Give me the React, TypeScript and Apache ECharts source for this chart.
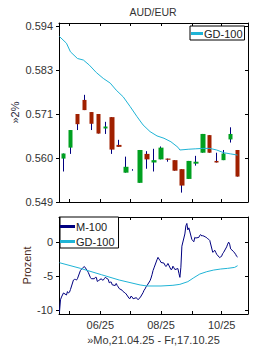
import React, { useEffect, useRef } from 'react';
import * as echarts from 'echarts';

// ---------- data ----------
const weekDates = ['2025-04-25','2025-05-02','2025-05-09','2025-05-16','2025-05-23','2025-05-30','2025-06-06','2025-06-13','2025-06-20','2025-06-27','2025-07-04','2025-07-11','2025-07-18','2025-07-25','2025-08-01','2025-08-08','2025-08-15','2025-08-22','2025-08-29','2025-09-05','2025-09-12','2025-09-19','2025-09-26','2025-10-03','2025-10-10','2025-10-17'];
const opens = [0.5601,0.5629,0.5715,0.5751,0.5720,0.5715,0.5678,0.5707,0.5636,0.5565,0.5572,0.5539,0.5613,0.5591,0.5599,0.5601,0.5597,0.5574,0.5549,0.5588,0.5616,0.5661,0.5595,0.5597,0.5650,0.5623];
const closes = [0.5614,0.5674,0.5689,0.5725,0.5690,0.5665,0.5683,0.5624,0.5631,0.5580,0.5572,0.5623,0.5599,0.5597,0.5629,0.5598,0.5570,0.5532,0.5595,0.5593,0.5664,0.5616,0.5591,0.5614,0.5664,0.5555];
const lows = [0.5568,0.5613,0.5674,0.5725,0.5674,0.5665,0.5664,0.5613,0.5631,0.5565,0.5570,0.5539,0.5575,0.5568,0.5599,0.5593,0.5570,0.5514,0.5549,0.5583,0.5616,0.5616,0.5591,0.5597,0.5642,0.5555];
const highs = [0.5614,0.5674,0.5715,0.5764,0.5720,0.5715,0.5695,0.5707,0.5649,0.5606,0.5574,0.5623,0.5620,0.5626,0.5632,0.5601,0.5597,0.5574,0.5595,0.5608,0.5664,0.5661,0.5616,0.5623,0.5681,0.5623];

const gdTopDates = ['2025-04-21','2025-04-28','2025-05-02','2025-05-09','2025-05-15','2025-05-21','2025-05-28','2025-06-04','2025-06-11','2025-06-17','2025-06-24','2025-07-01','2025-07-08','2025-07-14','2025-07-21','2025-07-28','2025-08-04','2025-08-11','2025-08-18','2025-08-20','2025-08-29','2025-09-05','2025-09-12','2025-09-19','2025-09-26','2025-10-03','2025-10-10','2025-10-17'];
const gdTopValues = [0.5913,0.5896,0.5874,0.5857,0.5853,0.5840,0.5821,0.5806,0.5794,0.5776,0.5759,0.5734,0.5708,0.5687,0.5670,0.5659,0.5653,0.5644,0.5630,0.5623,0.5625,0.5626,0.5627,0.5627,0.5623,0.5616,0.5613,0.5610];

// M-100, one value per trading day (Mon..Fri) from 21.04.25 to 17.10.25
const mStart = '2025-04-21';
const mEnd = '2025-10-17';
const mValues = [
  -10.3, -8.5, -8.1, -7.8, -7.5,
  -7.8, -7.3, -7.5, -7.4, -7.0,
  -5.6, -5.5, -5.5, -5.6, -5.4,
  -4.2, -4.0, -3.9, -3.7, -3.6,
  -4.2, -4.5, -4.85, -5.2, -5.4,
  -5.4, -5.2, -5.2, -5.8, -5.7,
  -5.4, -5.6, -5.6, -5.4, -5.2,
  -5.5, -6.0, -5.9, -5.9, -6.3,
  -6.4, -6.1, -6.4, -6.6, -6.85,
  -7.1, -7.3, -7.4, -7.5, -7.65,
  -8.3, -8.3, -7.95, -8.1, -8.35,
  -8.2, -8.3, -8.5, -8.3, -8.2,
  -7.45, -7.1, -6.9, -6.6, -6.4,
  -5.7, -5.3, -4.8, -4.2, -3.8,
  -2.6, -2.25, -2.5, -2.7, -3.0,
  -3.1, -3.4, -3.6, -3.4, -3.15,
  -4.05, -4.0, -3.55, -3.8, -4.05,
  -3.9, -4.6, -5.2, -3.7, -0.6,
  1.2, 2.4, 2.75, 1.8, 2.1,
  0.4, 0.2, 0.05, 0.7, 0.6,
  0.69, 1.0, 1.1, 0.9, 0.95,
  0.75, 0.6, 0.5, 0.4, 0.25,
  -1.5, -1.4, -1.2, -1.5, -1.8,
  -2.3, -2.2, -2.05, -1.7, -1.5,
  -0.7, -0.3, 0.0, -0.3, -1.0,
  -1.4, -1.6, -1.8, -2.1, -2.2,
];

const gdBotDates = ['2025-04-21','2025-05-12','2025-06-02','2025-06-20','2025-07-11','2025-07-18','2025-08-01','2025-08-13','2025-08-20','2025-08-28','2025-09-03','2025-09-09','2025-09-16','2025-09-23','2025-09-30','2025-10-07','2025-10-14','2025-10-17'];
const gdBotValues = [-3.04,-3.87,-4.8,-5.59,-6.32,-6.47,-6.47,-6.37,-6.23,-5.83,-5.25,-4.71,-4.36,-4.12,-3.97,-3.87,-3.73,-3.48];

const topTickValues = [0.549, 0.56025, 0.5715, 0.58275, 0.594];
const topTickLabels = ['0.549', '0.560', '0.571', '0.583', '0.594'];
const botTickValues = [-10, -5, 0];
const botTickLabels = ['-10', '-5', '0'];
const monthTickDates = ['2025-05-01','2025-06-01','2025-07-01','2025-08-01','2025-09-01','2025-10-01'];
const monthLabelDates = ['2025-06-01','2025-08-01','2025-10-01'];
const monthLabels = ['06/25', '08/25', '10/25'];

const titleText = 'AUD/EUR';
const xName = '»Mo,21.04.25 - Fr,17.10.25';

// ---------- helpers ----------
const DAY = 86400000;
const ts = (s: string) => Date.UTC(+s.slice(0, 4), +s.slice(5, 7) - 1, +s.slice(8, 10));
function tradingDays(from: string, to: string): number[] {
  const out: number[] = [];
  for (let t = ts(from); t <= ts(to); t += DAY) {
    const wd = new Date(t).getUTCDay();
    if (wd !== 0 && wd !== 6) out.push(t);
  }
  return out;
}
const nearest = (vals: number[], v: number) => {
  let bi = 0;
  vals.forEach((x, i) => { if (Math.abs(x - v) < Math.abs(vals[bi] - v)) bi = i; });
  return bi;
};

const FONT = '"Liberation Sans", Arial, sans-serif';
const TXT = '#333';
const NAVY = '#000080';
const CYAN = '#1fb4d6';
const GREEN = '#00a020';
const RED = '#a02000';

const xMin = ts('2025-04-21') - 0.5 * DAY;
const xMax = ts('2025-04-21') + 189.45 * DAY;
const monthTickTs = monthTickDates.map(ts);
const monthLabelTs = monthLabelDates.map(ts);

const axisLine = { show: true, onZero: false, lineStyle: { color: '#000', width: 1 } };

function xAxisDef(gridIndex: number, position: string, labels: boolean): any {
  const a: any = {
    type: 'value', gridIndex, position, min: xMin, max: xMax, scale: true,
    axisLine,
    axisTick: { show: true, inside: true, length: 3, lineStyle: { color: '#000' }, customValues: monthTickTs },
    axisLabel: { show: false },
    splitLine: { show: false },
    minorTick: { show: false },
  };
  if (labels) {
    a.axisLabel = {
      show: true, customValues: monthLabelTs, margin: 5, fontSize: 11, color: TXT, fontFamily: FONT,
      formatter: (v: number) => monthLabels[nearest(monthLabelTs, v)],
    };
    a.name = xName;
    a.nameLocation = 'middle';
    a.nameGap = 20;
    a.nameMoveOverlap = false;
    a.nameTextStyle = { fontSize: 11, color: TXT, fontFamily: FONT };
  }
  return a;
}

function yAxisDef(gridIndex: number, position: string, min: number, max: number, ticks: number[], labels: string[] | null, name?: string, nameGap?: number, nameColor?: string): any {
  const a: any = {
    type: 'value', gridIndex, position, min, max,
    axisLine,
    axisTick: { show: true, inside: position === 'right', length: 3, lineStyle: { color: '#000' }, customValues: ticks },
    axisLabel: { show: false },
    splitLine: { show: false },
    minorTick: { show: false },
  };
  if (labels) {
    a.axisLabel = {
      show: true, customValues: ticks, margin: 6, fontSize: 11, color: TXT, fontFamily: FONT,
      formatter: (v: number) => labels[nearest(ticks, v)],
    };
    a.name = name;
    a.nameLocation = 'middle';
    a.nameGap = nameGap;
    a.nameMoveOverlap = false;
    a.nameTextStyle = { fontSize: 11, color: nameColor, fontFamily: FONT };
  }
  return a;
}

export default function App() {
  const ref = useRef<HTMLDivElement>(null);
  useEffect(() => {
    const chart = echarts.init(ref.current!, null, { renderer: 'svg' });
    const mDays = tradingDays(mStart, mEnd);
    const option: any = {
      animation: false,
      backgroundColor: '#fff',
      title: {
        text: titleText, left: 153, top: 6, padding: 0, textAlign: 'center', textVerticalAlign: 'top',
        textStyle: { fontSize: 10.5, fontWeight: 'normal', color: TXT, fontFamily: FONT },
      },
      grid: [
        { left: 59, top: 23, width: 189, height: 179, containLabel: false },
        { left: 59, top: 217, width: 189, height: 97, containLabel: false },
      ],
      xAxis: [
        xAxisDef(0, 'bottom', false),
        xAxisDef(0, 'top', false),
        xAxisDef(1, 'bottom', true),
        xAxisDef(1, 'top', false),
      ],
      yAxis: [
        yAxisDef(0, 'left', 0.549, 0.59477, topTickValues, topTickLabels, '»2%', 39, '#2a2a3a'),
        yAxisDef(0, 'right', 0.549, 0.59477, topTickValues, null),
        yAxisDef(1, 'left', -10.6, 3.7, botTickValues, botTickLabels, 'Prozent', 27, '#4a2a20'),
        yAxisDef(1, 'right', -10.6, 3.7, botTickValues, null),
      ],
      legend: [
        {
          data: ['GD-100'], left: 190, top: 26, orient: 'horizontal', icon: 'rect',
          itemWidth: 12, itemHeight: 3, padding: [1, 2, 0, 1], borderColor: '#000', borderWidth: 1,
          backgroundColor: '#fff', selectedMode: false,
          textStyle: { fontSize: 11, color: '#222', fontFamily: FONT, lineHeight: 13, padding: [0, 0, 0, -4] },
        },
        {
          data: ['M-100', 'GD-100'], left: 60, top: 217, orient: 'vertical', icon: 'rect',
          itemWidth: 15, itemHeight: 3, itemGap: 2, padding: [3, 4, 0, 0], borderColor: '#000', borderWidth: 1,
          backgroundColor: '#fff', selectedMode: false,
          textStyle: { fontSize: 11, color: '#222', fontFamily: FONT, lineHeight: 13, padding: [0, 0, 0, -4] },
        },
      ],
      series: [
        {
          type: 'candlestick', name: 'wick', xAxisIndex: 0, yAxisIndex: 0, barWidth: 0.5, silent: true,
          data: weekDates.map((d, i) => [ts(d), opens[i], closes[i], lows[i], highs[i]]),
          itemStyle: { color: NAVY, color0: NAVY, borderColor: NAVY, borderColor0: NAVY, borderColorDoji: NAVY, borderWidth: 1 },
        },
        {
          type: 'candlestick', name: 'body', xAxisIndex: 0, yAxisIndex: 0, barWidth: 5, silent: true,
          data: weekDates.map((d, i) => [ts(d), opens[i], closes[i], Math.min(opens[i], closes[i]), Math.max(opens[i], closes[i])]),
          itemStyle: { color: GREEN, color0: RED, borderColor: GREEN, borderColor0: RED, borderColorDoji: 'transparent', borderWidth: 0 },
        },
        {
          type: 'line', name: 'GD-100', xAxisIndex: 0, yAxisIndex: 0, symbol: 'none', showSymbol: false,
          color: CYAN, lineStyle: { color: CYAN, width: 1 },
          data: gdTopDates.map((d, i) => [ts(d), gdTopValues[i]]),
        },
        {
          type: 'line', name: 'M-100', xAxisIndex: 2, yAxisIndex: 2, symbol: 'none', showSymbol: false,
          color: NAVY, lineStyle: { color: NAVY, width: 1 },
          data: mDays.map((t, i) => [t, mValues[i]]),
        },
        {
          type: 'line', name: 'GD-100', xAxisIndex: 2, yAxisIndex: 2, symbol: 'none', showSymbol: false,
          color: CYAN, lineStyle: { color: CYAN, width: 1 },
          data: gdBotDates.map((d, i) => [ts(d), gdBotValues[i]]),
        },
      ],
    };
    chart.setOption(option);
    return () => chart.dispose();
  }, []);
  return <div ref={ref} style={{ position: 'absolute', left: 0, top: 0, width: 260, height: 350 }} />;
}
